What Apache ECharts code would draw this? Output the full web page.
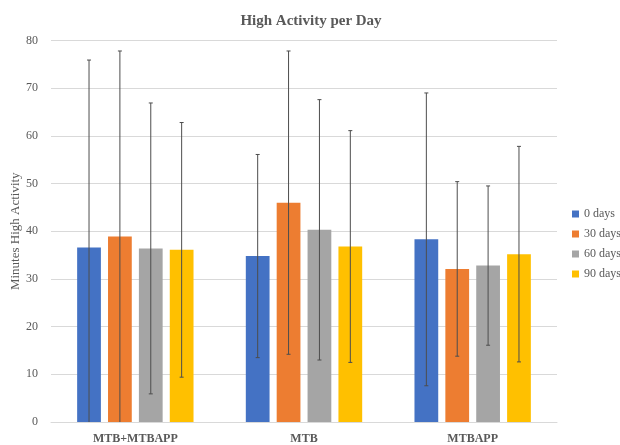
<!DOCTYPE html>
<html><head><meta charset="utf-8">
<script src="https://cdn.jsdelivr.net/npm/echarts@6/dist/echarts.min.js"></script>
<style>html,body{margin:0;padding:0;background:#fff}#c{width:620px;height:445px}</style>
</head><body><div id="c"></div>
<script>
const categories = ['MTB+MTBAPP', 'MTB', 'MTBAPP'];
const seriesNames = ['0 days', '30 days', '60 days', '90 days'];
const colors = ['#4472C4', '#ED7D31', '#A5A5A5', '#FFC000'];
const mean0 = [36.6, 34.8, 38.3];
const mean30 = [38.9, 46.0, 32.1];
const mean60 = [36.4, 40.3, 32.8];
const mean90 = [36.1, 36.8, 35.2];
const sd0 = [39.3, 21.3, 30.7];
const sd30 = [38.9, 31.8, 18.3];
const sd60 = [30.5, 27.3, 16.7];
const sd90 = [26.7, 24.3, 22.6];
const yTicks = [0, 10, 20, 30, 40, 50, 60, 70, 80];

const means = [mean0, mean30, mean60, mean90];
const sds = [sd0, sd30, sd60, sd90];
const FONT = '"Liberation Serif", "DejaVu Serif", serif';
const TXT = '#595959';
const catGap = 0.31, barGap = 0.30;

const barSeries = seriesNames.map((n, i) => ({
  name: n, type: 'bar', data: means[i],
  itemStyle: { color: colors[i] },
  barGap: (barGap * 100) + '%', barCategoryGap: (catGap * 100) + '%'
}));

const errData = [];
for (let s = 0; s < 4; s++) for (let c = 0; c < categories.length; c++)
  errData.push([c, means[s][c] - sds[s][c], means[s][c] + sds[s][c], s]);

const errSeries = {
  type: 'custom', name: 'err', data: errData, z: 10, silent: true,
  encode: { x: 0, y: [1, 2] },
  renderItem: function (params, api) {
    const c = api.value(0), lo = Math.max(0, api.value(1)), hi = api.value(2), s = api.value(3);
    const band = api.size([1, 0])[0];
    const usable = band * (1 - catGap);
    const w = usable / (4 + 3 * barGap);
    const base = api.coord([c, 0]);
    const x = base[0] - usable / 2 + w / 2 + s * w * (1 + barGap);
    const yHi = api.coord([c, hi])[1];
    const yLo = api.coord([c, lo])[1];
    const st = { stroke: '#4d4d4d', lineWidth: 1 };
    const cap = 2;
    const ch = [
      { type: 'line', shape: { x1: x, y1: yHi, x2: x, y2: yLo }, style: st },
      { type: 'line', shape: { x1: x - cap, y1: yHi, x2: x + cap, y2: yHi }, style: st }
    ];
    if (api.value(1) > 0) ch.push({ type: 'line', shape: { x1: x - cap, y1: yLo, x2: x + cap, y2: yLo }, style: st });
    return { type: 'group', children: ch };
  }
};

const chart = echarts.init(document.getElementById('c'));
chart.setOption({
  animation: false,
  title: { text: 'High Activity per Day', left: 306, top: 9, textAlign: 'center',
    textStyle: { fontFamily: FONT, fontSize: 15, fontWeight: 'bold', color: TXT } },
  legend: { data: seriesNames, orient: 'vertical', left: 567, top: 203, itemWidth: 7, itemHeight: 7,
    itemGap: 8, icon: 'rect', textStyle: { fontFamily: FONT, fontSize: 12, color: TXT } },
  grid: { left: 51, right: 63, top: 40.5, bottom: 23, containLabel: false, outerBoundsMode: 'none' },
  xAxis: { type: 'category', data: categories,
    axisLine: { lineStyle: { color: '#d9d9d9' } }, axisTick: { show: false },
    axisLabel: { fontFamily: FONT, fontSize: 12, fontWeight: 'bold', color: TXT, margin: 11 } },
  yAxis: { type: 'value', min: yTicks[0], max: yTicks[yTicks.length - 1], interval: 10,
    name: 'Minutes High Activity', nameLocation: 'middle', nameGap: 29, nameMoveOverlap: false,
    nameTextStyle: { fontFamily: FONT, fontSize: 13, color: TXT },
    axisLine: { show: false }, axisTick: { show: false },
    splitLine: { lineStyle: { color: '#d9d9d9' } },
    axisLabel: { fontFamily: FONT, fontSize: 12, color: TXT, margin: 13 } },
  series: barSeries.concat([errSeries])
});
</script></body></html>
